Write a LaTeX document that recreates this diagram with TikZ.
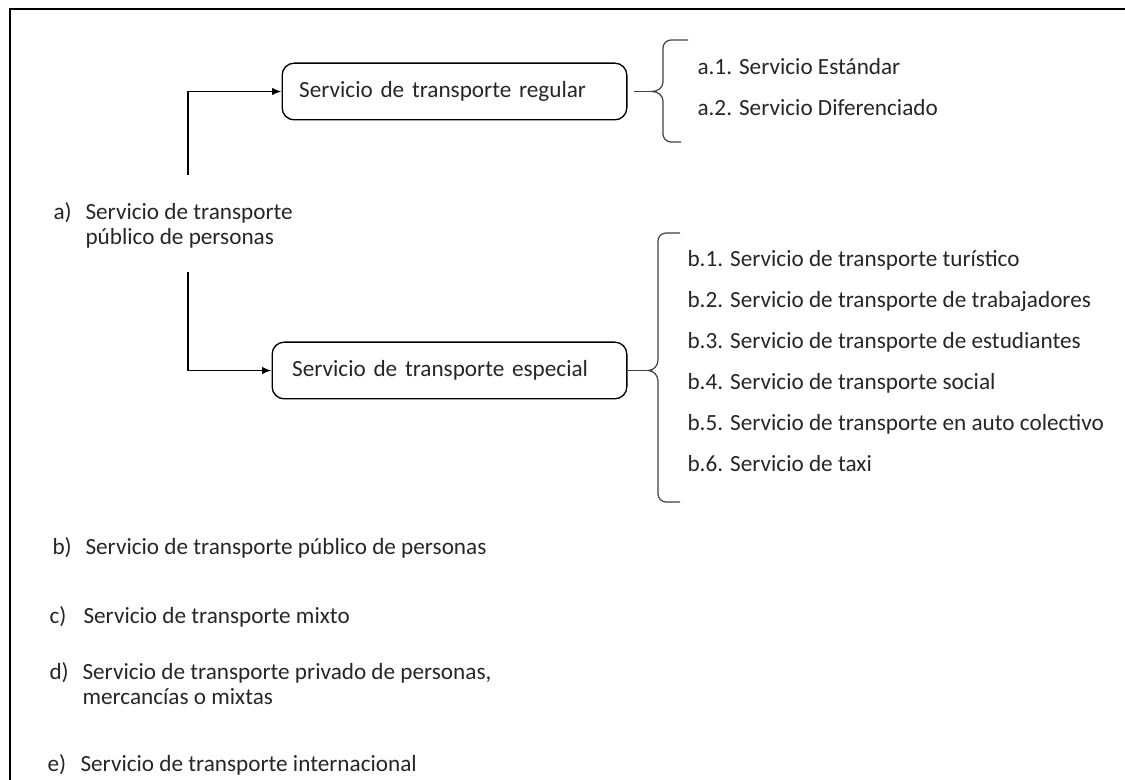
\documentclass[tikz,border=0pt]{standalone}
\usepackage{fontspec}
\setmainfont{Carlito}
\usetikzlibrary{positioning,arrows.meta}

\begin{document}
\begin{tikzpicture}[
	x=0.75pt, y=-0.75pt,
	every node/.style={
		font=\fontsize{17.4}{20}\selectfont,
		text=black!85, inner sep=0pt
	},
	service/.style={
		draw, line width=1pt, rounded corners=9pt,
		minimum height=42.5pt, align=left
	},
	entry/.style={anchor=base west},
	link/.style={-{Latex[length=7pt,width=5.5pt]}, line width=1.1pt},
	brace/.style={draw=black!75, line width=0.9pt},
	frame/.style={line width=2pt},
	thick
	]
	\useasboundingbox (0,0) rectangle (1125,780);
	\draw[frame] (10,780) -- (10,9) -- (1125,9);

	% the two service boxes
	\node[service, inner xsep=12.75pt, text width=233pt] (regular) at (454.5,91.5) {Servicio de transporte regular};
	\node[service, inner xsep=15pt, text width=236pt] (special) at (449.5,370.5) {Servicio de transporte especial};

	% item a) and its branches
	\node[entry] (la) at (53,220) {a)};
	\node[entry] (ta1) at (85,220) {Servicio de transporte};
	\node[entry] (ta2) at (85,245) {público de personas};
	\coordinate (up) at (188,175);
	\coordinate (down) at (188,272);
	\draw[link] (up) |- (regular.west);
	\draw[link] (down) |- (special.west);

	% brace of the regular service
	\coordinate (tipA) at (652,91.5);
	\draw[brace, shorten <=5pt] (regular) -- (tipA);
	\draw[brace] (688,40) -- (671,40) to[out=180,in=90] (663,48) -- (663,82)
		to[out=-90,in=0] (tipA) to[out=0,in=90] (663,101) -- (663,134)
		to[out=-90,in=180] (671,142) -- (681,142);
	\node[entry] (a1) at (697,75) {a.1. Servicio Estándar};
	\node[entry] (a2) at (697,116) {a.2. Servicio Diferenciado};

	% brace of the special service
	\coordinate (tipB) at (648,370.5);
	\draw[brace] (special) -- (tipB);
	\draw[brace] (680,233) -- (666,233) to[out=180,in=90] (658,241) -- (658,360)
		to[out=-90,in=0] (tipB) to[out=0,in=90] (658,381) -- (658,494)
		to[out=-90,in=180] (666,502) -- (680,502);
	\foreach \t [count=\i] in {Servicio de transporte turístico,
		Servicio de transporte de trabajadores,
		Servicio de transporte de estudiantes,
		Servicio de transporte social,
		Servicio de transporte en auto colectivo,
		Servicio de taxi}
	{
		\node[entry] (b\i) at (687,226+41*\i) {b.\i. \t};
	}

	% the other kinds of service
	\node[entry] (lb) at (52,555) {b)};
	\node[entry] (tb) at (85,555) {Servicio de transporte público de personas};
	\node[entry] (lc) at (49,623) {c)};
	\node[entry] (tc) at (83,623) {Servicio de transporte mixto};
	\node[entry] (ld) at (49,679) {d)};
	\node[entry] (td1) at (82,679) {Servicio de transporte privado de personas,};
	\node[entry] (td2) at (82,704) {mercancías o mixtas};
	\node[entry] (le) at (47,771) {e)};
	\node[entry] (te) at (80,771) {Servicio de transporte internacional};
\end{tikzpicture}
\end{document}
